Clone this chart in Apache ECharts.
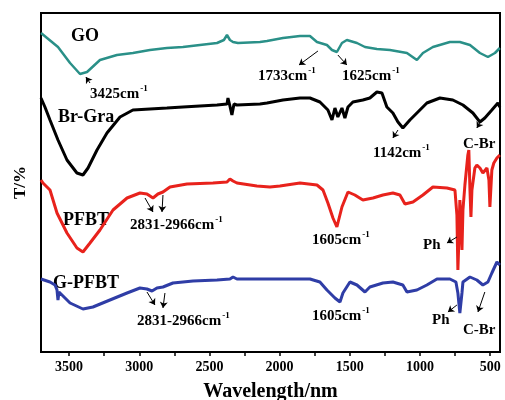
<!DOCTYPE html>
<html>
<head>
<meta charset="utf-8">
<script src="https://cdn.jsdelivr.net/npm/echarts@6/dist/echarts.min.js"></script>
<style>html,body{margin:0;padding:0;background:#fff;}#c{width:505px;height:400px;}</style>
</head>
<body>
<div id="c"></div>
<script>
// ---- data (wavenumber cm-1, transmittance in arbitrary units) ----
var goX = [3700,3579,3493,3422,3372,3280,3159,3045,2924,2803,2689,2568,2446,2397,2375,2354,2332,2297,2140,2090,1976,1855,1784,1734,1663,1627,1592,1556,1521,1449,1392,1307,1214,1093,1022,979,908,787,716,644,573,516,466,431];
var goT = [319,305,289,278,280,292,297,299,302,304,305,307,309,312,317,312,310,309,310,311,314,316,316,310,307,302,300,309,312,309,305,303,302,299,292,299,305,310,310,307,299,295,299,304];

var brX = [3700,3686,3672,3636,3579,3515,3444,3401,3365,3301,3230,3137,3045,2924,2803,2689,2568,2446,2375,2368,2354,2340,2325,2304,2140,2090,1976,1855,1784,1713,1656,1627,1606,1585,1556,1535,1513,1478,1407,1357,1307,1271,1236,1193,1157,1122,1072,1022,951,858,766,694,623,573,538,488,445,431];
var brT = [254,252,245,232,212,192,179,177,184,202,219,235,242,243,244,245,246,247,248,254,246,237,248,247,248,249,252,254,254,250,242,232,244,235,244,234,245,250,252,254,260,259,245,239,230,224,232,239,249,254,252,247,239,230,234,242,249,245];

var pfX = [3700,3686,3636,3586,3515,3444,3401,3351,3280,3187,3087,2995,2945,2902,2867,2831,2781,2660,2475,2375,2354,2332,2304,2162,2069,1998,1855,1734,1691,1656,1620,1592,1556,1513,1464,1407,1335,1264,1193,1143,1107,1050,979,908,808,751,737,730,723,716,709,701,694,680,659,652,644,637,630,609,595,573,552,523,509,502,488,474,452,431];
var pfT = [172,169,162,139,119,104,100,109,122,142,154,159,158,154,158,160,165,168,169,170,173,171,169,166,165,166,169,167,162,149,134,125,145,160,157,152,154,157,159,157,148,150,157,165,164,162,137,82,112,152,137,102,142,167,197,202,162,135,162,184,187,184,179,184,172,145,182,189,194,197];

var gpX = [3700,3636,3600,3586,3579,3572,3565,3493,3401,3330,3209,3087,2995,2945,2909,2874,2831,2760,2617,2446,2354,2332,2304,2140,1976,1784,1713,1663,1606,1570,1549,1499,1449,1392,1357,1264,1193,1122,1093,1022,951,879,787,744,730,716,701,694,644,595,552,516,488,452,431];
var gpT = [73,70,67,62,52,60,62,49,43,45,52,59,64,63,61,64,65,69,71,72,73,75,73,73,73,73,70,62,54,50,59,70,67,60,65,69,70,67,60,62,67,73,73,70,59,39,59,70,75,72,67,70,79,90,87];

var tickValues = [3500,3000,2500,2000,1500,1000,500];
var minorTickValues = [3500,3250,3000,2750,2500,2250,2000,1750,1500,1250,1000,750,500];

// annotation arrows: [tailX, tailT, headX, headT]
var arrows = [
  [3351,269,3380,275],
  [1727,301,1862,287],
  [1585,297,1521,287],
  [1157,222,1193,214],
  [573,229,595,224],
  [2959,154,2902,140],
  [2831,157,2838,140],
  [737,115,808,109],
  [2945,60,2888,47],
  [2817,59,2831,44],
  [737,47,801,40],
  [538,60,587,40]
];

function zip(xs, ys){ var r=[]; for(var i=0;i<xs.length;i++){ r.push([xs[i],ys[i]]); } return r; }

var FONT = "'Liberation Serif','Times New Roman',serif";
var rich = {
  b:{fontFamily:FONT,fontWeight:'bold',fontSize:15,color:'#000',lineHeight:18,verticalAlign:'bottom'},
  s:{fontFamily:FONT,fontWeight:'bold',fontSize:9,color:'#000',lineHeight:18,verticalAlign:'top',padding:[0,0,0,1]}
};
function label(txt, x, y, size){
  return {type:'text', left:x, top:y, silent:true,
    style:{text:txt, fontFamily:FONT, fontWeight:'bold', fontSize:size||15, fill:'#000'}};
}
function wn(txt, x, y){
  return {type:'text', left:x, top:y, silent:true,
    style:{text:'{b|'+txt+'}{s|-1}', rich:rich}};
}

var chart = echarts.init(document.getElementById('c'), null, {renderer:'canvas'});
var lineData = arrows.map(function(a){
  return [{coord:[a[0],a[1]], symbol:'none'},{coord:[a[2],a[3]], symbol:'arrow'}];
});

chart.setOption({
  animation:false,
  backgroundColor:'#fff',
  grid:{left:41,right:5,top:13,bottom:48,outerBoundsMode:'none',containLabel:false,show:true,borderColor:'#000',borderWidth:2,backgroundColor:'transparent'},
  xAxis:{type:'value',inverse:true,min:430,max:3700,
    name:'Wavelength/nm',nameLocation:'middle',nameGap:30,
    nameTextStyle:{fontFamily:FONT,fontWeight:'bold',fontSize:20,color:'#000'},
    axisLine:{show:true,lineStyle:{color:'#000',width:2}},
    axisTick:{show:true,length:4,inside:false,customValues:minorTickValues,lineStyle:{color:'#000',width:1.5}},
    axisLabel:{customValues:tickValues,margin:8,fontFamily:FONT,fontWeight:'bold',fontSize:14,color:'#000',
      formatter:function(v){return String(v);}},
    splitLine:{show:false}},
  yAxis:{type:'value',min:0,max:339,
    name:'T/%',nameLocation:'middle',nameGap:12,
    nameTextStyle:{fontFamily:FONT,fontWeight:'bold',fontSize:17,color:'#000'},
    axisLine:{show:true,lineStyle:{color:'#000',width:2}},
    axisTick:{show:false},axisLabel:{show:false},splitLine:{show:false}},
  series:[
    {type:'line',data:zip(goX,goT),showSymbol:false,lineStyle:{color:'#2a9088',width:2.5},
      markLine:{silent:true,symbolSize:6,label:{show:false},lineStyle:{color:'#000',width:1,type:'solid'},data:lineData}},
    {type:'line',data:zip(brX,brT),showSymbol:false,lineStyle:{color:'#000',width:3}},
    {type:'line',data:zip(pfX,pfT),showSymbol:false,lineStyle:{color:'#e8221c',width:3}},
    {type:'line',data:zip(gpX,gpT),showSymbol:false,lineStyle:{color:'#2f3da6',width:3}}
  ],
  graphic:[
    label('GO',71,27,18),
    wn('3425cm',90,84),
    label('Br-Gra',58,108,18),
    wn('1733cm',258,66),
    wn('1625cm',342,66),
    wn('1142cm',373,143),
    label('C-Br',463,137,15),
    label('PFBT',63,211,18),
    wn('2831-2966cm',130,215),
    wn('1605cm',312,230),
    label('Ph',423,238,15),
    label('G-PFBT',53,274,18),
    wn('2831-2966cm',137,311),
    wn('1605cm',312,306),
    label('Ph',432,313,15),
    label('C-Br',463,323,15)
  ]
});
</script>
</body>
</html>
